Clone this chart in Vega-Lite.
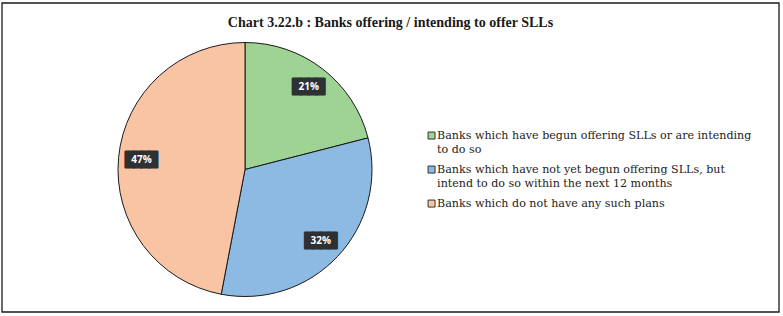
{
  "$schema": "https://vega.github.io/schema/vega-lite/v6.json",
  "width": 777,
  "height": 309,
  "autosize": "none",
  "padding": {"left": 2, "top": 3, "right": 4, "bottom": 4},
  "background": "white",
  "config": {
    "view": {"stroke": null},
    "font": "Liberation Serif"
  },
  "title": {
    "text": "Chart 3.22.b : Banks offering / intending to offer SLLs",
    "font": "Liberation Serif",
    "fontSize": 14,
    "fontWeight": "bold",
    "color": "#1a1a1a",
    "anchor": "middle",
    "orient": "top",
    "baseline": "alphabetic",
    "offset": -39
  },
  "layer": [
    {
      "data": {"values": [{"frame": 1}]},
      "mark": {"type": "rect", "fill": null, "stroke": "#1a1a1a", "strokeWidth": 1.3},
      "encoding": {
        "x": {"value": 0},
        "x2": {"value": "width"},
        "y": {"value": 0},
        "y2": {"value": "height"}
      }
    },
    {
      "data": {
        "values": [
          {"cat": "Banks which have begun offering SLLs or are intending to do so", "value": 21, "label": "21%", "ord": 1},
          {"cat": "Banks which have not yet begun offering SLLs, but intend to do so  within the next 12 months", "value": 32, "label": "32%", "ord": 2},
          {"cat": "Banks which do not have any such plans", "value": 47, "label": "47%", "ord": 3}
        ]
      },
      "encoding": {
        "theta": {"field": "value", "type": "quantitative", "stack": true},
        "order": {"field": "ord", "type": "quantitative"}
      },
      "layer": [
        {
          "mark": {"type": "arc", "x": 243, "y": 166.5, "outerRadius": 127, "stroke": "#1a1a1a", "strokeWidth": 1},
          "encoding": {
            "color": {
              "field": "cat",
              "type": "nominal",
              "sort": null,
              "scale": {"range": ["#9fd394", "#8cbae2", "#f9c4a4"]},
              "legend": {
                "title": null,
                "orient": "none",
                "legendX": 424,
                "legendY": 127,
                "padding": 0,
                "symbolType": "square",
                "symbolSize": 49,
                "symbolStrokeColor": "#333333",
                "symbolStrokeWidth": 1,
                "labelFont": "DejaVu Serif",
                "labelFontSize": 11.1,
                "labelColor": "#222222",
                "labelLimit": 400,
                "labelOffset": 0,
                "rowPadding": 8,
                "labelExpr": "indexof(datum.label, 'intending') > 0 ? ['Banks which have begun offering SLLs or are intending', 'to do so'] : indexof(datum.label, '12 months') > 0 ? ['Banks which have not yet begun offering SLLs, but', 'intend to do so  within the next 12 months'] : datum.label",
                "encode": {"labels": {"update": {"lineHeight": {"value": 14}}}}
              }
            }
          }
        },
        {
          "mark": {"type": "text", "x": 243, "y": 166.5, "radius": 104, "font": "DejaVu Sans Mono", "fontSize": 13, "fill": "#2e3134", "stroke": "#2e3134", "strokeWidth": 2.5, "strokeJoin": "round", "baseline": "middle", "align": "center"},
          "encoding": {
            "detail": {"field": "cat", "type": "nominal"},
            "text": {"value": "████"}
          }
        },
        {
          "mark": {"type": "text", "x": 243, "y": 166.5, "radius": 104, "font": "Open Sans", "fontSize": 10, "fontWeight": "bold", "fill": "white", "baseline": "middle", "align": "center"},
          "encoding": {
            "detail": {"field": "cat", "type": "nominal"},
            "text": {"field": "label", "type": "nominal"}
          }
        }
      ]
    }
  ]
}
